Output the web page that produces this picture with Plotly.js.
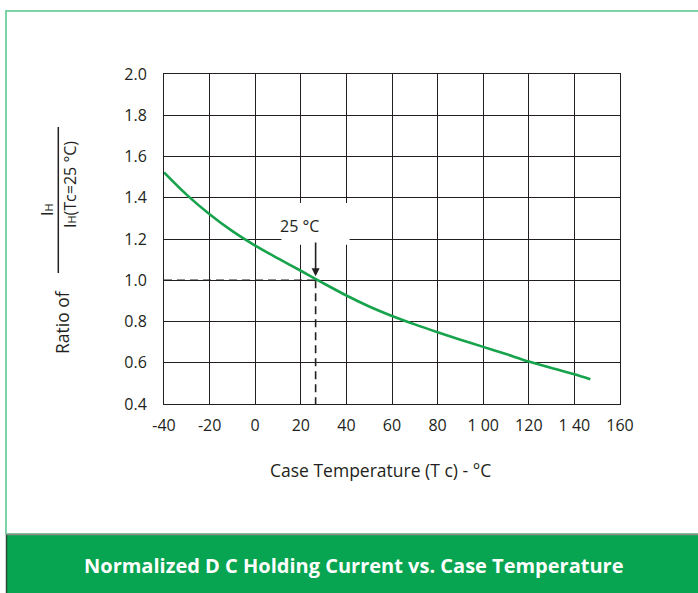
<!DOCTYPE html>
<html>
<head>
<meta charset="utf-8">
<script src="https://cdn.plot.ly/plotly-3.0.1.min.js"></script>
<style>html,body{margin:0;padding:0;background:#fff}#chart{width:698px;height:593px}</style>
</head>
<body>
<div id="chart"></div>
<script>
// Data
var temps  = [-40, -30, -20, -10, 0, 10, 20, 30, 40, 50, 60, 70, 80, 90, 100, 110, 120, 130, 140, 147];
var ratios = [1.523, 1.414, 1.320, 1.238, 1.168, 1.106, 1.046, 0.985, 0.926, 0.873, 0.827, 0.786, 0.748, 0.712, 0.677, 0.642, 0.606, 0.574, 0.544, 0.520];
var refTemp = 26.5;     // where the 25 °C marker is drawn
var refRatio = 1.0;
var xTicks = [-40, -20, 0, 20, 40, 60, 80, 100, 120, 140, 160];
var xTickLabels = ['-40', '-20', '0', '20', '40', '60', '80', '1 00', '120', '1 40', '160'];
var yTicks = [0.4, 0.6, 0.8, 1.0, 1.2, 1.4, 1.6, 1.8, 2.0];
var yTickLabels = ['0.4', '0.6', '0.8', '1.0', '1.2', '1.4', '1.6', '1.8', '2.0'];

var ink = '#231f20';
var font = 'Open Sans, Noto Sans, sans-serif';

// pixel -> paper helpers (plot area: x 164..620, y 74..404)
var L = 164, R = 620, T = 74, B = 404;
function px(x) { return (x - L) / (R - L); }
function py(y) { return (B - y) / (B - T); }

var trace = {
  x: temps, y: ratios, type: 'scatter', mode: 'lines',
  line: {color: '#17a34c', width: 2.6, shape: 'spline', smoothing: 0.8},
  hoverinfo: 'skip', showlegend: false
};

function pa(x, y, text, size, extra) {
  var a = {xref: 'paper', yref: 'paper', x: px(x), y: py(y), text: text, showarrow: false,
           xanchor: 'center', yanchor: 'middle', font: {family: font, size: size, color: ink}};
  for (var k in (extra || {})) a[k] = extra[k];
  return a;
}

var layout = {
  width: 698, height: 593, autosize: false,
  margin: {l: L, r: 698 - R, t: T, b: 593 - B, pad: 0},
  paper_bgcolor: '#ffffff', plot_bgcolor: '#ffffff',
  font: {family: font, color: ink, size: 16},
  xaxis: {
    range: [-40, 160], tickvals: xTicks, ticktext: xTickLabels,
    showgrid: true, gridcolor: ink, gridwidth: 1,
    showline: true, linecolor: ink, linewidth: 1, mirror: true,
    zeroline: false, ticks: '', ticklabelstandoff: 7,
    tickfont: {family: font, size: 16, color: ink}, fixedrange: true
  },
  yaxis: {
    range: [0.4, 2.0], tickvals: yTicks, ticktext: yTickLabels,
    showgrid: true, gridcolor: ink, gridwidth: 1,
    showline: true, linecolor: ink, linewidth: 1, mirror: true,
    zeroline: false, ticks: '', ticklabelstandoff: 13,
    tickfont: {family: font, size: 16, color: ink}, fixedrange: true
  },
  shapes: [
    // outer light-green frame
    {type: 'rect', xref: 'paper', yref: 'paper', x0: px(6), x1: px(702), y0: py(534), y1: py(11),
     line: {color: '#7dd3a5', width: 2}, fillcolor: 'rgba(0,0,0,0)', layer: 'below'},
    // bottom banner
    {type: 'rect', xref: 'paper', yref: 'paper', x0: px(6), x1: px(702), y0: py(595), y1: py(534),
     line: {width: 0}, fillcolor: '#07a551', layer: 'above'},
    {type: 'line', xref: 'paper', yref: 'paper', x0: px(6), x1: px(702), y0: py(534.5), y1: py(534.5),
     line: {color: '#8a8a8a', width: 1.5}, layer: 'above'},
    {type: 'line', xref: 'paper', yref: 'paper', x0: px(6.5), x1: px(6.5), y0: py(535), y1: py(595),
     line: {color: '#2b4a36', width: 1.5}, layer: 'above'},
    // white box behind the 25 °C label
    {type: 'rect', xref: 'x', yref: 'y', x0: 11.5, x1: 41.4, y0: 1.172, y1: 1.374,
     line: {width: 0}, fillcolor: '#ffffff', layer: 'between'},
    // dashed reference lines
    {type: 'line', xref: 'x', yref: 'y', x0: -40, x1: refTemp, y0: refRatio, y1: refRatio,
     line: {color: ink, width: 1.6, dash: '8px,5px'}, layer: 'between'},
    {type: 'line', xref: 'x', yref: 'y', x0: refTemp, x1: refTemp, y0: refRatio, y1: 0.4,
     line: {color: ink, width: 1.6, dash: '8px,5px'}, layer: 'between'},
    // fraction bar in y-axis title
    {type: 'line', xref: 'paper', yref: 'paper', x0: px(58.3), x1: px(58.3), y0: py(273), y1: py(127),
     line: {color: ink, width: 1.5}}
  ],
  annotations: [
    {xref: 'x', yref: 'y', x: 19.5, y: 1.265, text: '25 °C', showarrow: false,
     xanchor: 'center', yanchor: 'middle', font: {family: font, size: 16, color: ink}},
    {xref: 'x', yref: 'y', x: refTemp, y: 1.02, ax: refTemp, ay: 1.19, axref: 'x', ayref: 'y',
     text: '', showarrow: true, arrowhead: 2, arrowsize: 1, arrowwidth: 1.6, arrowcolor: ink},
    pa(380, 470, 'Case Temperature (T c) - °C', 17.5),
    pa(62, 322, 'Ratio of', 17.5, {textangle: -90}),
    pa(47, 209, 'I<span style="font-size:11px">H</span>', 16, {textangle: -90}),
    pa(70, 185, 'I<span style="font-size:11px">H</span>(Tc=25 °C)', 16, {textangle: -90}),
    {xref: 'paper', yref: 'paper', x: px(353), y: py(565), xanchor: 'center', yanchor: 'middle',
     text: '<b>Normalized D C Holding Current vs. Case Temperature</b>',
     showarrow: false, font: {family: font, size: 20, color: '#ffffff'}}
  ]
};

Plotly.newPlot('chart', [trace], layout, {staticPlot: true, displayModeBar: false});
</script>
</body>
</html>
